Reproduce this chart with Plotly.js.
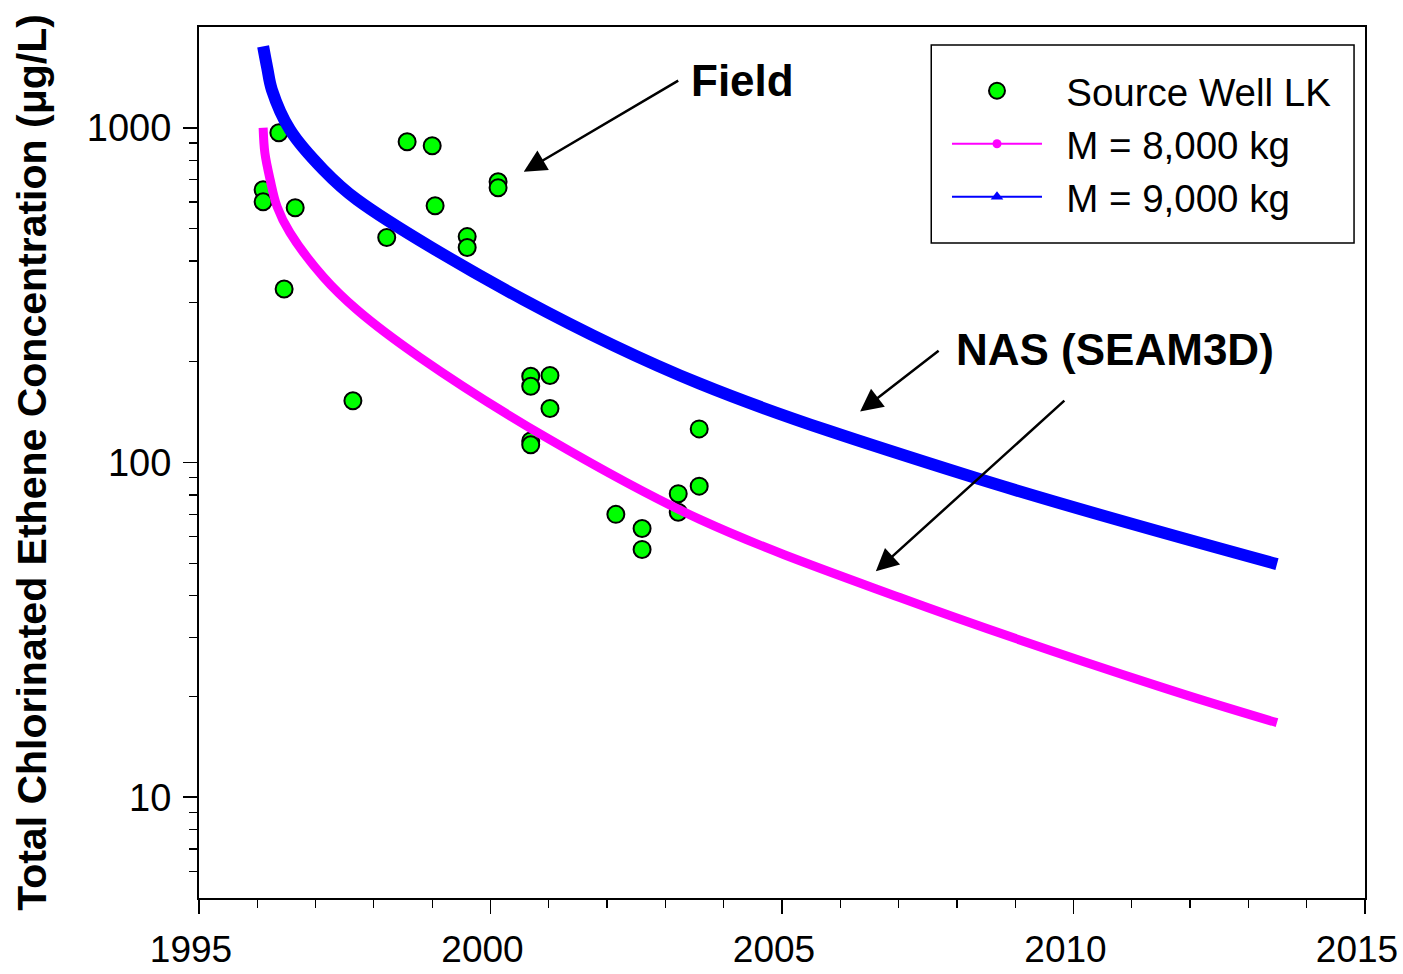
<!DOCTYPE html>
<html>
<head>
<meta charset="utf-8">
<script src="https://cdn.plot.ly/plotly-3.0.1.min.js"></script>
<style>
html,body{margin:0;padding:0;background:#fff;}
#chart{width:1403px;height:974px;}
</style>
</head>
<body>
<div id="chart"></div>
<script>
// Field data: Source Well LK (year, total chlorinated ethene µg/L)
var wellYears = [1996.10, 1996.10, 1996.37, 1996.65, 1996.46, 1997.64, 1998.22, 1998.57, 1999.00, 1999.05,
                 1999.60, 1999.60, 2000.13, 2000.13, 2000.69, 2000.69, 2001.02, 2001.02, 2000.69, 2000.69,
                 2002.15, 2002.60, 2002.60, 2003.22, 2003.22, 2003.58, 2003.58];
var wellConc  = [653, 601, 966, 577, 330, 153, 470, 908, 884, 585,
                 473, 439, 690, 662, 181, 169, 182, 145, 116, 113,
                 70, 63.5, 55, 80.7, 71, 126, 85];

// SEAM3D model, M = 8,000 kg
var m8Years = [1996.10, 1996.13, 1996.22, 1996.34, 1996.56, 1997.13, 1997.71, 1998.79, 2001.02, 2003.59,
               2007.02, 2011.48, 2013.49];
var m8Conc  = [1000, 841, 700, 581, 486, 359, 286, 206, 117, 67.6,
               39.5, 21.4, 16.7];

// SEAM3D model, M = 9,000 kg
var m9Years = [1996.10, 1996.17, 1996.25, 1996.56, 1997.13, 1997.71, 2000.56, 2003.59,
               2008.19, 2013.49];
var m9Conc  = [1750, 1510, 1298, 986, 750, 610, 307, 172,
               91.4, 49.7];

var xTickVals = [1995, 2000, 2005, 2010, 2015];
var yTickVals = [10, 100, 1000];
var yTickText = ['10', '100', '1000'];
var yMinorVals = [6, 7, 8, 9, 20, 30, 40, 50, 60, 70, 80, 90, 200, 300, 400, 500, 600, 700, 800, 900];

var seriesNames = ['Source Well LK', 'M = 8,000 kg', 'M = 9,000 kg'];
var fieldLabel = 'Field';
var modelLabel = 'NAS (SEAM3D)';
var yTitle = 'Total Chlorinated Ethene Concentration (\u03bcg/L)';

var gap = '\u2002';

var traces = [
  {
    x: wellYears, y: wellConc, type: 'scatter', mode: 'markers', name: gap + seriesNames[0],
    marker: {symbol: 'circle', size: 17, color: '#00ff00', line: {color: '#000', width: 2}}
  },
  {
    x: m8Years, y: m8Conc, type: 'scatter', mode: 'lines', showlegend: false,
    line: {color: '#ff00ff', width: 9, shape: 'spline', smoothing: 1.0}
  },
  {
    x: m9Years, y: m9Conc, type: 'scatter', mode: 'lines', showlegend: false,
    line: {color: '#0000ff', width: 12, shape: 'spline', smoothing: 1.0}
  },
  {
    x: [null], y: [null], type: 'scatter', mode: 'lines+markers', name: gap + seriesNames[1],
    line: {color: '#ff00ff', width: 2}, marker: {symbol: 'circle', size: 9, color: '#ff00ff'}
  },
  {
    x: [null], y: [null], type: 'scatter', mode: 'lines+markers', name: gap + seriesNames[2],
    line: {color: '#0000ff', width: 2}, marker: {symbol: 'triangle-up', size: 11, color: '#0000ff'}
  }
];

var arrowCommon = {
  showarrow: true, arrowhead: 2, arrowsize: 1.8, arrowwidth: 2.5, arrowcolor: '#000',
  text: '', axref: 'pixel', ayref: 'pixel'
};

var layout = {
  width: 1403, height: 974,
  margin: {l: 199, r: 38, t: 27, b: 76, pad: 0},
  paper_bgcolor: '#fff', plot_bgcolor: '#fff',
  font: {family: 'Liberation Sans, Arial, sans-serif', color: '#000', size: 36},
  showlegend: true,
  legend: {
    x: 0.6415, y: 0.963, xanchor: 'left', yanchor: 'top',
    bgcolor: 'rgba(0,0,0,0)', borderwidth: 0,
    font: {family: 'Liberation Sans, Arial, sans-serif', size: 38.5, color: '#000'},
    itemwidth: 90, traceorder: 'normal'
  },
  xaxis: {
    type: 'linear', range: [1995, 2015], tickmode: 'array', tickvals: xTickVals,
    ticks: 'outside', ticklen: 14, tickwidth: 1.5, tickcolor: '#000',
    showline: true, linecolor: '#000', linewidth: 2, mirror: true,
    showgrid: false, zeroline: false,
    ticklabeloverflow: 'allow', ticklabelstandoff: 4, ticklabelshift: -8,
    tickfont: {family: 'Liberation Sans, Arial, sans-serif', size: 37},
    minor: {dtick: 1, ticks: 'outside', ticklen: 8, tickwidth: 1.2, tickcolor: '#000', showgrid: false}
  },
  yaxis: {
    type: 'log', range: [Math.log10(5), Math.log10(2000)],
    tickmode: 'array', tickvals: yTickVals, ticktext: yTickText,
    ticks: 'outside', ticklen: 14, tickwidth: 1.5, tickcolor: '#000',
    showline: true, linecolor: '#000', linewidth: 2, mirror: true,
    showgrid: false, zeroline: false,
    ticklabelstandoff: 4,
    tickfont: {family: 'Liberation Sans, Arial, sans-serif', size: 38},
    minor: {tickmode: 'array', tickvals: yMinorVals, ticks: 'outside', ticklen: 8, tickwidth: 1.2, tickcolor: '#000', showgrid: false},
    title: {text: yTitle, standoff: 28,
            font: {family: 'Liberation Sans, Arial, sans-serif', size: 41, weight: 'bold', color: '#000'}}
  },
  shapes: [
    {type: 'rect', xref: 'paper', yref: 'paper', x0: 0.628, x1: 0.9906, y0: 0.752, y1: 0.9793,
     line: {color: '#000', width: 1.5}, fillcolor: 'rgba(0,0,0,0)'}
  ],
  annotations: [
    {text: '<b>' + fieldLabel + '</b>', x: 2004.33, y: Math.log10(1380), xref: 'x', yref: 'y',
     xanchor: 'center', yanchor: 'middle', showarrow: false,
     font: {family: 'Liberation Sans, Arial, sans-serif', size: 44, color: '#000'}},
    Object.assign({}, arrowCommon, {x: 2000.57, y: Math.log10(739), xref: 'x', yref: 'y', ax: 156, ay: -92}),
    {text: '<b>' + modelLabel + '</b>', x: 2010.71, y: Math.log10(217), xref: 'x', yref: 'y',
     xanchor: 'center', yanchor: 'middle', showarrow: false,
     font: {family: 'Liberation Sans, Arial, sans-serif', size: 44, color: '#000'}},
    Object.assign({}, arrowCommon, {x: 2006.34, y: Math.log10(142), xref: 'x', yref: 'y', ax: 80, ay: -62}),
    Object.assign({}, arrowCommon, {x: 2006.61, y: Math.log10(47.3), xref: 'x', yref: 'y', ax: 190, ay: -172})
  ]
};

Plotly.newPlot('chart', traces, layout, {displayModeBar: false, staticPlot: true});
</script>
</body>
</html>
